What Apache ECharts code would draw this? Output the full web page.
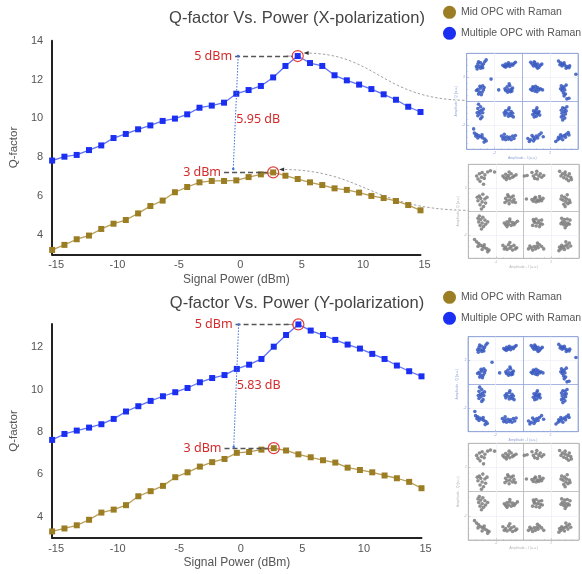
<!DOCTYPE html>
<html><head><meta charset="utf-8">
<script src="https://cdn.jsdelivr.net/npm/echarts@6/dist/echarts.min.js"></script>
<style>html,body{margin:0;padding:0;background:#fff}#c{width:582px;height:574px}</style>
</head><body><div id="c"></div>
<script>
// ---------------- data ----------------
const powerDbm = [-15,-14,-13,-12,-11,-10,-9,-8,-7,-6,-5,-4,-3,-2,-1,0,1,2,3,4,5,6,7,8,9,10,11,12,13,14,15];
const xMultiple = [7.83,8.03,8.12,8.37,8.61,8.99,9.20,9.44,9.64,9.87,9.99,10.21,10.55,10.66,10.81,11.27,11.46,11.67,12.11,12.70,13.21,12.85,12.70,12.22,11.96,11.74,11.51,11.24,10.96,10.60,10.33];
const xMid = [3.23,3.49,3.78,3.97,4.31,4.58,4.77,5.11,5.49,5.77,6.20,6.47,6.71,6.78,6.78,6.81,6.98,7.12,7.22,7.05,6.88,6.71,6.57,6.40,6.32,6.18,6.01,5.90,5.75,5.54,5.27];
const yMultiple = [7.63,7.91,8.07,8.21,8.37,8.62,8.97,9.22,9.47,9.69,9.88,10.08,10.35,10.55,10.69,10.98,11.18,11.45,12.03,12.58,13.08,12.79,12.58,12.35,12.13,11.94,11.69,11.45,11.14,10.87,10.63];
const yMid = [3.31,3.45,3.60,3.86,4.20,4.34,4.55,4.97,5.21,5.46,5.87,6.10,6.37,6.58,6.73,7.02,7.06,7.17,7.24,7.13,6.95,6.81,6.67,6.56,6.32,6.21,6.10,5.95,5.82,5.65,5.35];
const seriesNames = ['Mid OPC with Raman', 'Multiple OPC with Raman'];
const titles = ['Q-factor Vs. Power (X-polarization)', 'Q-factor Vs. Power (Y-polarization)'];
const gapLabels = ['5.95 dB', '5.83 dB'];
const gapLabelValue = [9.97, 10.22];
const arrowStartX = [-0.1, -1.0];      // start of the "x dBm" dashed arrows
const linkX = [0.15, -0.25];           // x of the dotted link (top, bottom)
const linkBottomValue = [7.40, 7.30];
// 16-QAM constellation samples (I, Q)
const blueConstellation = [
[-3.2,3.1],[-3.0,3.2],[-2.8,3.1],[-3.1,2.9],[-2.9,2.95],[-3.3,2.9],[-3.0,2.75],[-2.7,3.3],[-3.15,3.3],[-2.85,2.8],[-2.6,3.45],[-3.25,2.7],
[-1.4,3.0],[-1.2,3.1],[-1.0,3.05],[-0.8,3.1],[-0.6,3.15],[-1.3,2.9],[-1.1,2.95],[-0.9,2.9],[-0.7,3.0],[-1.0,3.2],[-0.5,3.25],[-1.2,2.85],
[0.7,3.1],[0.9,3.2],[1.1,3.1],[1.3,3.0],[0.8,2.95],[1.0,2.9],[1.2,2.85],[0.6,3.25],[0.95,3.05],[1.4,3.1],[0.85,3.3],[1.1,2.75],
[2.6,3.35],[2.75,3.2],[2.9,3.1],[3.05,3.0],[3.2,2.9],[3.35,2.8],[2.7,3.05],[3.0,3.2],[3.15,2.75],[3.4,2.95],[2.85,2.95],[3.85,2.25],
[-3.2,1.0],[-3.0,1.1],[-2.8,0.95],[-3.1,0.8],[-2.9,0.75],[-3.3,0.9],[-3.05,1.25],[-2.75,1.15],[-3.15,0.6],[-2.95,0.55],[-2.85,1.3],[-2.25,1.85],
[-1.1,1.2],[-0.9,1.3],[-0.8,1.0],[-1.0,0.95],[-1.2,0.9],[-0.85,0.8],[-1.05,0.75],[-0.7,1.1],[-0.95,1.45],[-1.25,1.05],[-0.75,0.85],[-1.7,0.95],
[0.6,1.0],[0.8,1.1],[1.0,1.0],[1.2,0.95],[0.9,0.85],[1.1,1.15],[0.7,0.9],[1.3,1.05],[0.95,1.25],[1.05,0.8],[1.45,0.95],[0.75,1.2],
[2.8,1.3],[2.9,1.1],[3.0,1.2],[2.85,0.9],[3.05,0.95],[2.95,0.7],[3.1,0.6],[2.75,1.05],[3.15,1.35],[3.0,0.45],[3.2,0.2],[3.35,0.25],
[-3.15,-0.25],[-3.0,-0.45],[-3.2,-0.6],[-2.95,-0.75],[-3.1,-0.85],[-2.85,-0.95],[-3.05,-1.05],[-3.2,-1.2],[-2.9,-1.3],[-3.0,-1.45],[-3.25,-0.95],[-2.8,-0.65],
[-1.2,-0.8],[-1.0,-0.7],[-0.8,-0.85],[-1.1,-1.0],[-0.9,-1.05],[-0.7,-1.0],[-1.25,-1.15],[-1.0,-1.25],[-0.8,-1.2],[-0.95,-0.55],[-1.3,-0.95],[-0.65,-1.3],
[0.8,-0.8],[1.0,-0.7],[1.2,-0.85],[0.9,-1.0],[1.1,-1.05],[0.75,-1.1],[1.25,-1.15],[1.0,-1.25],[0.85,-1.3],[1.15,-0.95],[1.05,-0.55],[0.95,-0.9],
[2.9,-0.55],[3.05,-0.6],[2.8,-0.75],[3.0,-0.85],[3.15,-0.8],[2.85,-1.0],[3.1,-1.05],[2.95,-1.2],[2.8,-1.3],[3.05,-1.4],[2.9,-1.55],[3.2,-0.45],
[-3.5,-2.3],[-3.45,-2.65],[-3.3,-2.75],[-3.15,-2.85],[-3.0,-2.95],[-2.85,-3.05],[-2.7,-3.15],[-2.6,-3.3],[-3.2,-3.05],[-2.9,-2.8],[-2.75,-3.4],[-3.35,-2.9],
[-1.5,-2.9],[-1.3,-3.0],[-1.1,-2.95],[-0.9,-3.0],[-0.7,-2.9],[-0.5,-2.85],[-1.4,-3.15],[-1.2,-3.2],[-1.0,-3.15],[-0.8,-3.2],[-0.6,-3.1],[-1.3,-2.75],
[0.4,-3.1],[0.6,-3.2],[0.8,-3.0],[1.0,-2.9],[1.2,-2.8],[0.7,-2.85],[0.9,-3.15],[1.1,-3.05],[0.5,-3.35],[1.35,-2.65],[0.8,-3.3],[1.5,-2.95],
[2.4,-3.35],[2.55,-3.2],[2.7,-3.1],[2.85,-2.95],[3.0,-2.85],[3.15,-2.75],[3.3,-2.6],[2.6,-3.0],[2.9,-3.2],[3.1,-3.0],[3.35,-2.8],[2.75,-2.8]
];
const grayConstellation = [
[-3.4,3.0],[-3.2,3.2],[-3.0,3.3],[-2.8,3.1],[-2.6,3.35],[-3.3,2.75],[-3.05,2.9],[-2.85,2.8],[-3.15,2.55],[-2.4,3.45],[-2.1,3.35],[-2.9,2.3],
[-1.5,3.0],[-1.3,3.15],[-1.1,3.05],[-0.9,3.2],[-0.7,3.0],[-1.4,2.85],[-1.2,2.9],[-1.0,2.8],[-0.8,2.9],[-1.05,3.35],[-0.55,3.1],[-1.25,2.7],
[0.7,3.0],[0.9,3.15],[1.1,3.0],[1.3,2.9],[0.8,2.8],[1.0,2.75],[1.2,3.2],[0.6,3.3],[0.95,3.4],[1.45,3.05],[0.25,3.05],[0.05,3.0],
[2.6,3.4],[2.8,3.2],[3.0,3.1],[3.2,3.0],[3.4,2.9],[2.9,2.85],[3.1,2.75],[3.3,3.2],[2.7,3.0],[3.45,2.7],[3.0,3.35],[3.25,2.6],
[-3.2,1.3],[-2.95,1.45],[-3.1,1.1],[-2.8,1.05],[-3.3,0.9],[-3.0,0.8],[-2.75,0.7],[-3.15,0.55],[-2.9,0.4],[-3.35,1.2],[-2.65,1.2],[-3.05,0.2],
[-1.3,1.1],[-1.1,1.25],[-0.9,1.2],[-0.7,1.0],[-1.2,0.9],[-1.0,0.95],[-0.8,0.8],[-1.35,0.75],[-1.05,0.65],[-0.75,1.3],[-0.6,0.75],[-1.15,1.4],
[0.6,1.0],[0.8,1.1],[1.0,0.95],[1.2,1.05],[0.7,0.85],[0.9,0.8],[1.1,0.85],[1.3,0.9],[0.85,1.2],[1.15,1.25],[0.2,1.05],[1.4,1.1],
[2.75,1.3],[2.95,1.2],[3.1,1.05],[3.3,0.95],[2.85,0.95],[3.05,0.8],[3.2,0.65],[2.9,0.6],[3.35,0.75],[2.7,1.05],[3.15,1.4],[3.0,0.4],
[-3.2,-0.4],[-2.95,-0.5],[-3.1,-0.7],[-2.8,-0.75],[-3.25,-0.9],[-3.0,-1.0],[-2.75,-1.1],[-3.15,-1.2],[-2.9,-1.3],[-3.05,-1.5],[-2.6,-0.9],[-3.3,-0.6],
[-1.4,-1.0],[-1.2,-0.9],[-1.0,-0.85],[-0.8,-0.95],[-0.6,-1.0],[-1.3,-1.15],[-1.1,-1.1],[-0.9,-1.2],[-0.7,-1.15],[-1.0,-0.65],[-0.45,-0.85],[-1.2,-1.3],
[0.7,-0.7],[0.9,-0.65],[1.1,-0.8],[1.3,-0.75],[0.8,-0.95],[1.0,-1.0],[1.2,-1.05],[0.65,-1.2],[0.9,-1.25],[1.15,-1.3],[1.35,-1.1],[0.75,-0.85],
[2.75,-0.6],[2.95,-0.7],[3.15,-0.65],[3.35,-0.75],[2.8,-0.9],[3.0,-0.95],[3.2,-1.0],[2.9,-1.15],[3.1,-1.2],[3.3,-1.1],[2.7,-1.05],[3.0,-1.4],
[-3.55,-2.4],[-3.4,-2.6],[-3.25,-2.75],[-3.1,-2.9],[-2.95,-3.0],[-2.8,-3.1],[-2.65,-3.2],[-2.5,-3.3],[-3.3,-3.0],[-3.0,-3.25],[-2.85,-2.85],[-2.6,-3.45],
[-1.5,-2.9],[-1.3,-3.05],[-1.1,-2.85],[-0.9,-3.0],[-0.7,-2.9],[-0.5,-3.1],[-1.4,-3.2],[-1.2,-3.25],[-1.0,-3.15],[-0.8,-3.3],[-0.6,-3.2],[-1.0,-2.65],
[0.35,-3.2],[0.55,-3.1],[0.75,-3.0],[0.95,-2.95],[1.15,-2.85],[0.65,-3.3],[0.85,-3.2],[1.05,-3.1],[1.3,-3.0],[0.45,-2.95],[1.0,-2.7],[1.45,-3.2],
[2.55,-3.35],[2.7,-3.2],[2.85,-3.05],[3.0,-2.95],[3.15,-2.85],[3.3,-2.7],[2.75,-2.9],[2.95,-3.25],[3.2,-3.1],[3.4,-2.95],[3.05,-2.6],[2.6,-3.05]
];

// ---------------- styling ----------------
const BLUE = '#1b2ff2', BLUE_LINE = '#5f72f6';
const GOLD = '#9b7d24', GOLD_LINE = '#b79d55';
const RED = '#d42a2a';
const TXT = '#555';
const FONT = 'Liberation Sans, Arial, sans-serif';

const mainGrids = [
  {left: 47, top: 40.7, width: 373.5, height: 213.7},
  {left: 46.5, top: 324, width: 375, height: 214}
];
const insetGrids = [
  {left: 466.7, top: 53.3, width: 111.3, height: 96, c: '#8fa3d9', pts: blueConstellation, pc: '#3557c0'},
  {left: 468.3, top: 164.3, width: 110.7, height: 94, c: '#b5b5b5', pts: grayConstellation, pc: '#7b7b7b'},
  {left: 468, top: 336.7, width: 110, height: 95, c: '#8fa3d9', pts: blueConstellation, pc: '#3557c0'},
  {left: 468.3, top: 443.3, width: 111, height: 96.7, c: '#b5b5b5', pts: grayConstellation, pc: '#7b7b7b'}
];
const yMax = [14, 13.1];
const multiple = [xMultiple, yMultiple];
const mid = [xMid, yMid];

const grid = [], xAxis = [], yAxis = [], series = [], title = [], legend = [];
function argMax(a){let k=0;a.forEach((v,i)=>{if(v>a[k])k=i;});return k;}

mainGrids.forEach((g, i) => {
  grid.push({left: g.left, top: g.top, width: g.width, height: g.height, containLabel: false});
  xAxis.push({gridIndex: i, type: 'value', min: -15, max: 15, interval: 5,
    name: 'Signal Power (dBm)', nameLocation: 'middle', nameGap: 19,
    nameTextStyle: {color: TXT, fontSize: 12, fontFamily: FONT},
    axisLine: {onZero: false, lineStyle: {color: '#222', width: 2}}, axisTick: {show: false},
    splitLine: {show: false},
    axisLabel: {color: TXT, fontSize: 11, fontFamily: FONT, margin: 5, padding: [0,0,0,8]}});
  yAxis.push({gridIndex: i, type: 'value', min: 3, max: yMax[i], interval: 1,
    name: 'Q-factor', nameLocation: 'middle', nameGap: 18,
    nameTextStyle: {color: TXT, fontSize: 11.5, fontFamily: FONT},
    axisLine: {show: true, onZero: false, lineStyle: {color: '#222', width: 2}}, axisTick: {show: false},
    splitLine: {show: false},
    axisLabel: {color: TXT, fontSize: 11, fontFamily: FONT, margin: 9,
      formatter: v => (Math.abs(v % 2) < 1e-9 ? String(v) : '')}});
  const pk = argMax(multiple[i]);
  const pk2 = argMax(mid[i]);
  const pX = powerDbm[pk], pY = multiple[i][pk];
  const qX = powerDbm[pk2], qY = mid[i][pk2];
  const arrowLabel = (txt) => ({show: true, position: 'start', formatter: txt, color: RED,
    fontSize: 12.5, fontFamily: 'Noto Sans, DejaVu Sans, sans-serif', distance: 3});
  series.push({
    name: seriesNames[1], type: 'line', xAxisIndex: i, yAxisIndex: i,
    data: powerDbm.map((x, k) => [x, multiple[i][k]]),
    symbol: 'rect', symbolSize: 6, itemStyle: {color: BLUE},
    lineStyle: {color: BLUE_LINE, width: 1.3}, z: 3,
    markLine: {silent: true, animation: false, symbol: ['none', 'arrow'], symbolSize: [1, 7],
      lineStyle: {type: [5, 3], color: '#555', width: 1.4},
      data: [
        [{coord: [arrowStartX[0], pY], label: arrowLabel(pX + ' dBm')}, {coord: [pX - 0.42, pY]}],
        [{coord: [arrowStartX[1], qY], label: arrowLabel(qX + ' dBm')}, {coord: [qX - 0.42, qY]}]
      ]},
    markPoint: {silent: true, animation: false,
      data: [
        {coord: [pX, pY], symbol: 'circle', symbolSize: 11,
          itemStyle: {color: 'rgba(0,0,0,0)', borderColor: '#e23b3b', borderWidth: 1.2}, label: {show: false}},
        {coord: [qX, qY], symbol: 'circle', symbolSize: 11,
          itemStyle: {color: 'rgba(0,0,0,0)', borderColor: '#e23b3b', borderWidth: 1.2}, label: {show: false}},
        {coord: [linkX[0] - 0.15, gapLabelValue[i]], symbol: 'circle', symbolSize: 0,
          label: {show: true, position: 'right', distance: 0, formatter: gapLabels[i], color: RED,
            fontSize: 12.5, fontFamily: 'Noto Sans, DejaVu Sans, sans-serif'}}
      ]}
  });
  series.push({
    name: seriesNames[0], type: 'line', xAxisIndex: i, yAxisIndex: i,
    data: powerDbm.map((x, k) => [x, mid[i][k]]),
    symbol: 'rect', symbolSize: 6, itemStyle: {color: GOLD},
    lineStyle: {color: GOLD_LINE, width: 1.3}, z: 3,
    markLine: {silent: true, animation: false, symbol: ['circle', 'circle'], symbolSize: 2.5,
      lineStyle: {type: [1.5, 1.5], color: '#3d6fd6', width: 1},
      label: {show: false},
      data: [[{coord: [linkX[0], pY]}, {coord: [linkX[1], linkBottomValue[i]]}]]}
  });
  title.push({text: titles[i], left: 292, top: g.top - (i === 0 ? 36 : 34.5), textAlign: 'center',
    textStyle: {color: '#444', fontSize: 16.5, fontWeight: 'normal', fontFamily: FONT}});
  legend.push({orient: 'vertical', left: 438, top: i === 0 ? 0.8 : 285.8, icon: 'circle',
    itemWidth: 13, itemHeight: 13, itemGap: 8, data: [seriesNames[0], seriesNames[1]],
    textStyle: {color: TXT, fontSize: 10.5, fontFamily: FONT}});
});

insetGrids.forEach((g, j) => {
  const gi = 2 + j;
  grid.push({left: g.left, top: g.top, width: g.width, height: g.height, show: true,
    borderColor: g.c, borderWidth: 0.8, backgroundColor: '#fff'});
  const split = {show: true, lineStyle: {color: [g.c, '#eef0f6', g.c, '#eef0f6', g.c], width: 0.8}};
  const common = {gridIndex: gi, type: 'value', min: -4, max: 4, interval: 2,
    axisLine: {show: false, onZero: false}, axisTick: {show: true, inside: true, length: 2, lineStyle: {color: g.c, width: 0.6}},
    minorTick: {show: true, splitNumber: 4, length: 1, lineStyle: {color: g.c, width: 0.5}},
    splitLine: split,
    axisLabel: {show: true, fontSize: 3.5, color: g.c, margin: 1.5,
      formatter: v => (v === -2 || v === 2 ? String(v) : '')},
    nameLocation: 'middle', nameGap: 5, nameTextStyle: {fontSize: 3.5, color: g.c}};
  xAxis.push(Object.assign({}, common, {name: 'Amplitude - I (a.u.)'}));
  yAxis.push(Object.assign({}, common, {name: 'Amplitude - Q (a.u.)', nameGap: 5}));
  series.push({type: 'scatter', xAxisIndex: gi, yAxisIndex: gi, data: g.pts, symbolSize: 3.6,
    itemStyle: {color: g.pc, opacity: 0.85}, silent: true, z: 4});
});

const chart = echarts.init(document.getElementById('c'), null, {renderer: 'canvas'});
chart.setOption({animation: false, backgroundColor: '#fff', title, legend, grid, xAxis, yAxis, series});

// dashed connectors from the peaks of the X-polarization plot to the constellation insets
function connector(peak, inset) {
  const p = chart.convertToPixel({gridIndex: 0}, peak);
  const x0 = p[0] + 7, y0 = p[1] - 3;
  const x3 = inset.left, y3 = inset.top + inset.height * 0.49;
  const dx = x3 - x0;
  return [
    {type: 'bezierCurve', silent: true,
      shape: {x1: x0, y1: y0, x2: x3, y2: y3, cpx1: x0 + dx * 0.45, cpy1: y0, cpx2: x0 + dx * 0.47, cpy2: y3 - 1},
      style: {stroke: '#8a8a8a', lineWidth: 0.8, lineDash: [2.5, 2], fill: null}},
    {type: 'polygon', silent: true,
      shape: {points: [[x0 - 1, y0], [x0 + 4, y0 - 2], [x0 + 4, y0 + 2]]},
      style: {fill: '#333'}}
  ];
}
const pk = argMax(xMultiple), pk2 = argMax(xMid);
chart.setOption({graphic: [].concat(
  connector([powerDbm[pk], xMultiple[pk]], insetGrids[0]),
  connector([powerDbm[pk2], xMid[pk2]], insetGrids[1])
)});
</script></body></html>
